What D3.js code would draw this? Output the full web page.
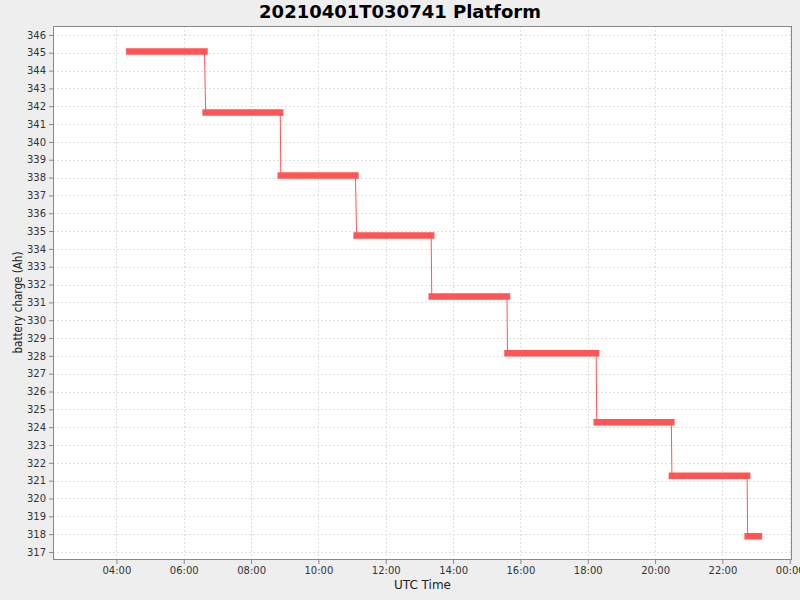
<!DOCTYPE html>
<html>
<head>
<meta charset="utf-8">
<script src="https://cdn.jsdelivr.net/npm/d3@7"></script>
<style>
  body { margin: 0; background: #eeeeee; }
  svg { display: block; font-family: "DejaVu Sans", sans-serif; }
</style>
</head>
<body>
<svg id="chart" width="800" height="600"></svg>
<script>
// plateaus of the charge curve (UTC, 2021-04-01)
var segStart = ['04:23', '06:39', '08:53', '11:08', '13:22', '15:37', '18:16', '20:30', '22:45'];
var segEnd   = ['06:37', '08:52', '11:06', '13:21', '15:36', '18:15', '20:29', '22:44', '23:05'];
var charge   = [345.07, 341.65, 338.12, 334.75, 331.33, 328.14, 324.27, 321.28, 317.88];

var xDomain = ['2021-04-01 02:07', '2021-04-02 00:04'];
var yDomain = [316.55, 346.5];

var title = '20210401T030741 Platform';
var xLabel = 'UTC Time';
var yLabel = 'battery charge (Ah)';

var red = '#ff5555';
var parse = d3.utcParse('%Y-%m-%d %H:%M');
var day = '2021-04-01 ';

var plot = {left: 53, top: 26, right: 792, bottom: 560};

var svg = d3.select('#chart');

svg.append('rect')
    .attr('width', 800).attr('height', 600)
    .attr('fill', '#eeeeee');

var x = d3.scaleUtc()
    .domain(xDomain.map(parse))
    .range([plot.left, plot.right]);
var y = d3.scaleLinear()
    .domain(yDomain)
    .range([plot.bottom, plot.top]);

var xTicks = d3.utcHour.every(2).range(x.domain()[0], d3.utcMinute.offset(x.domain()[1], 1));
var yTicks = d3.range(Math.ceil(yDomain[0]), Math.floor(yDomain[1]) + 1);

svg.append('rect')
    .attr('x', plot.left).attr('y', plot.top)
    .attr('width', plot.right - plot.left)
    .attr('height', plot.bottom - plot.top)
    .attr('fill', '#fff');

// grid
var grid = svg.append('g')
    .attr('stroke', '#e0e0e0')
    .attr('stroke-width', 1)
    .attr('stroke-dasharray', '2,2');
grid.selectAll('.gx')
    .data(xTicks)
  .enter().append('line')
    .attr('x1', d => Math.round(x(d)) + 0.5).attr('x2', d => Math.round(x(d)) + 0.5)
    .attr('y1', plot.top).attr('y2', plot.bottom);
grid.selectAll('.gy')
    .data(yTicks)
  .enter().append('line')
    .attr('y1', d => Math.round(y(d)) + 0.5).attr('y2', d => Math.round(y(d)) + 0.5)
    .attr('x1', plot.left).attr('x2', plot.right);

// axes
var xAxis = svg.append('g')
    .attr('transform', 'translate(0,' + plot.bottom + ')')
    .call(d3.axisBottom(x)
        .tickValues(xTicks)
        .tickFormat(d3.utcFormat('%H:%M'))
        .tickSize(4)
        .tickPadding(3));
var yAxis = svg.append('g')
    .attr('transform', 'translate(' + plot.left + ',0)')
    .call(d3.axisLeft(y)
        .tickValues(yTicks)
        .tickFormat(d3.format('d'))
        .tickSize(4)
        .tickPadding(3));

[xAxis, yAxis].forEach(function(a) {
  a.select('.domain').remove();
  a.selectAll('.tick line').attr('stroke', '#888');
  a.selectAll('.tick text')
      .attr('fill', '#333')
      .style('font-size', '10px')
      .style('font-family', '"DejaVu Sans", sans-serif');
});

svg.append('rect')
    .attr('x', plot.left + 0.5).attr('y', plot.top + 0.5)
    .attr('width', plot.right - plot.left - 1)
    .attr('height', plot.bottom - plot.top - 1)
    .attr('fill', 'none')
    .attr('stroke', '#888')
    .attr('stroke-width', 1);

// series
var segs = segStart.map(function(s, i) {
  return {t0: parse(day + s), t1: parse(day + segEnd[i]), v: charge[i]};
});
var pts = [];
segs.forEach(function(d) { pts.push([d.t0, d.v], [d.t1, d.v]); });

svg.append('path')
    .datum(pts)
    .attr('fill', 'none')
    .attr('stroke', red)
    .attr('stroke-width', 1)
    .attr('d', d3.line().x(d => x(d[0])).y(d => y(d[1])));

svg.append('g')
    .selectAll('line')
    .data(segs)
  .enter().append('line')
    .attr('x1', d => x(d.t0)).attr('x2', d => x(d.t1))
    .attr('y1', d => y(d.v)).attr('y2', d => y(d.v))
    .attr('stroke', red)
    .attr('stroke-width', 6.5)
    .attr('stroke-linecap', 'square');

// labels
svg.append('text')
    .attr('x', 400).attr('y', 17.5)
    .attr('text-anchor', 'middle')
    .style('font-size', '18px')
    .style('font-weight', 'bold')
    .attr('fill', '#000')
    .text(title);

svg.append('text')
    .attr('x', (plot.left + plot.right) / 2).attr('y', 589)
    .attr('text-anchor', 'middle')
    .style('font-size', '12px')
    .attr('fill', '#222')
    .text(xLabel);

svg.append('text')
    .attr('transform', 'translate(21.5,302.5)rotate(-90)')
    .attr('text-anchor', 'middle')
    .style('font-size', '12px')
    .attr('textLength', 102)
    .attr('lengthAdjust', 'spacingAndGlyphs')
    .attr('fill', '#222')
    .text(yLabel);
</script>
</body>
</html>
